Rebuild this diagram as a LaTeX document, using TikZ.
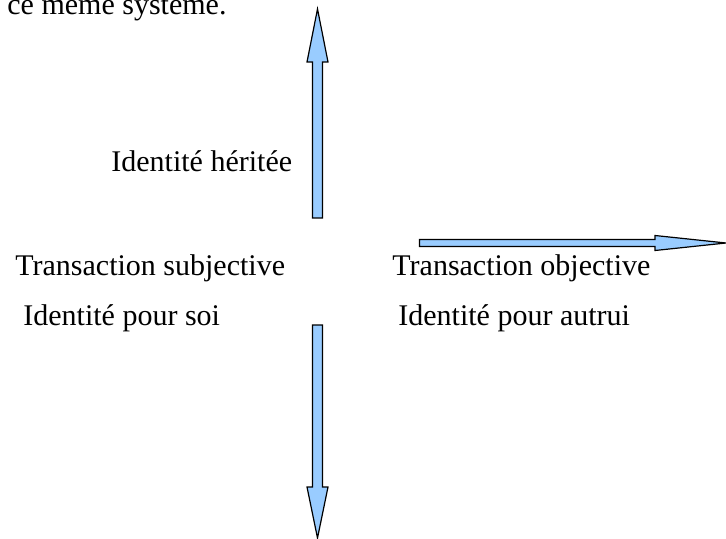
\documentclass[tikz,border=0pt]{standalone}
\usepackage{fontspec}
\setmainfont{Liberation Serif}
\usetikzlibrary{positioning}
\definecolor{bleuclair}{RGB}{153,204,255}
\tikzset{
    texte/.style={anchor=base west, inner sep=0pt, font=\fontsize{15}{18}\selectfont},
    fleche/.style={draw=black, fill=bleuclair, line width=0.6pt, line join=miter}
}

\begin{document}
\begin{tikzpicture}[x=0.5pt, y=-0.5pt]
    \useasboundingbox (0,0) rectangle (726,539);

    	%-----Textes-----
        % Fin de la phrase
        \node [texte] (systeme) at (7,15) {ce même système.};

        % Axe vertical
        \node [texte] (heritee) at (111,172) {Identité héritée};

        % Cote gauche
        \node [texte] (subjective) at (15,275) {Transaction subjective};
        \node [texte] (soi) at (23,325) {Identité pour soi};

        % Cote droit
        \node [texte] (objective) at (392,275) {Transaction objective};
        \node [texte] (autrui) at (398,325) {Identité pour autrui};

    	%-----Fleches-----
        % Fleche vers le haut
        \draw [fleche] (312.5,218) -- (312.5,62) -- (307,62) -- (317.5,9)
            -- (328,62) -- (322.5,62) -- (322.5,218) -- cycle;

        % Fleche vers le bas
        \draw [fleche] (312.5,325) -- (312.5,487) -- (307,487) -- (317.5,538)
            -- (328,487) -- (322.5,487) -- (322.5,325) -- cycle;

        % Fleche vers la droite
        \draw [fleche] (419.5,239.5) -- (655,239.5) -- (655,235.5) -- (726,243)
            -- (655,250.5) -- (655,246.5) -- (419.5,246.5) -- cycle;

\end{tikzpicture}
\end{document}
